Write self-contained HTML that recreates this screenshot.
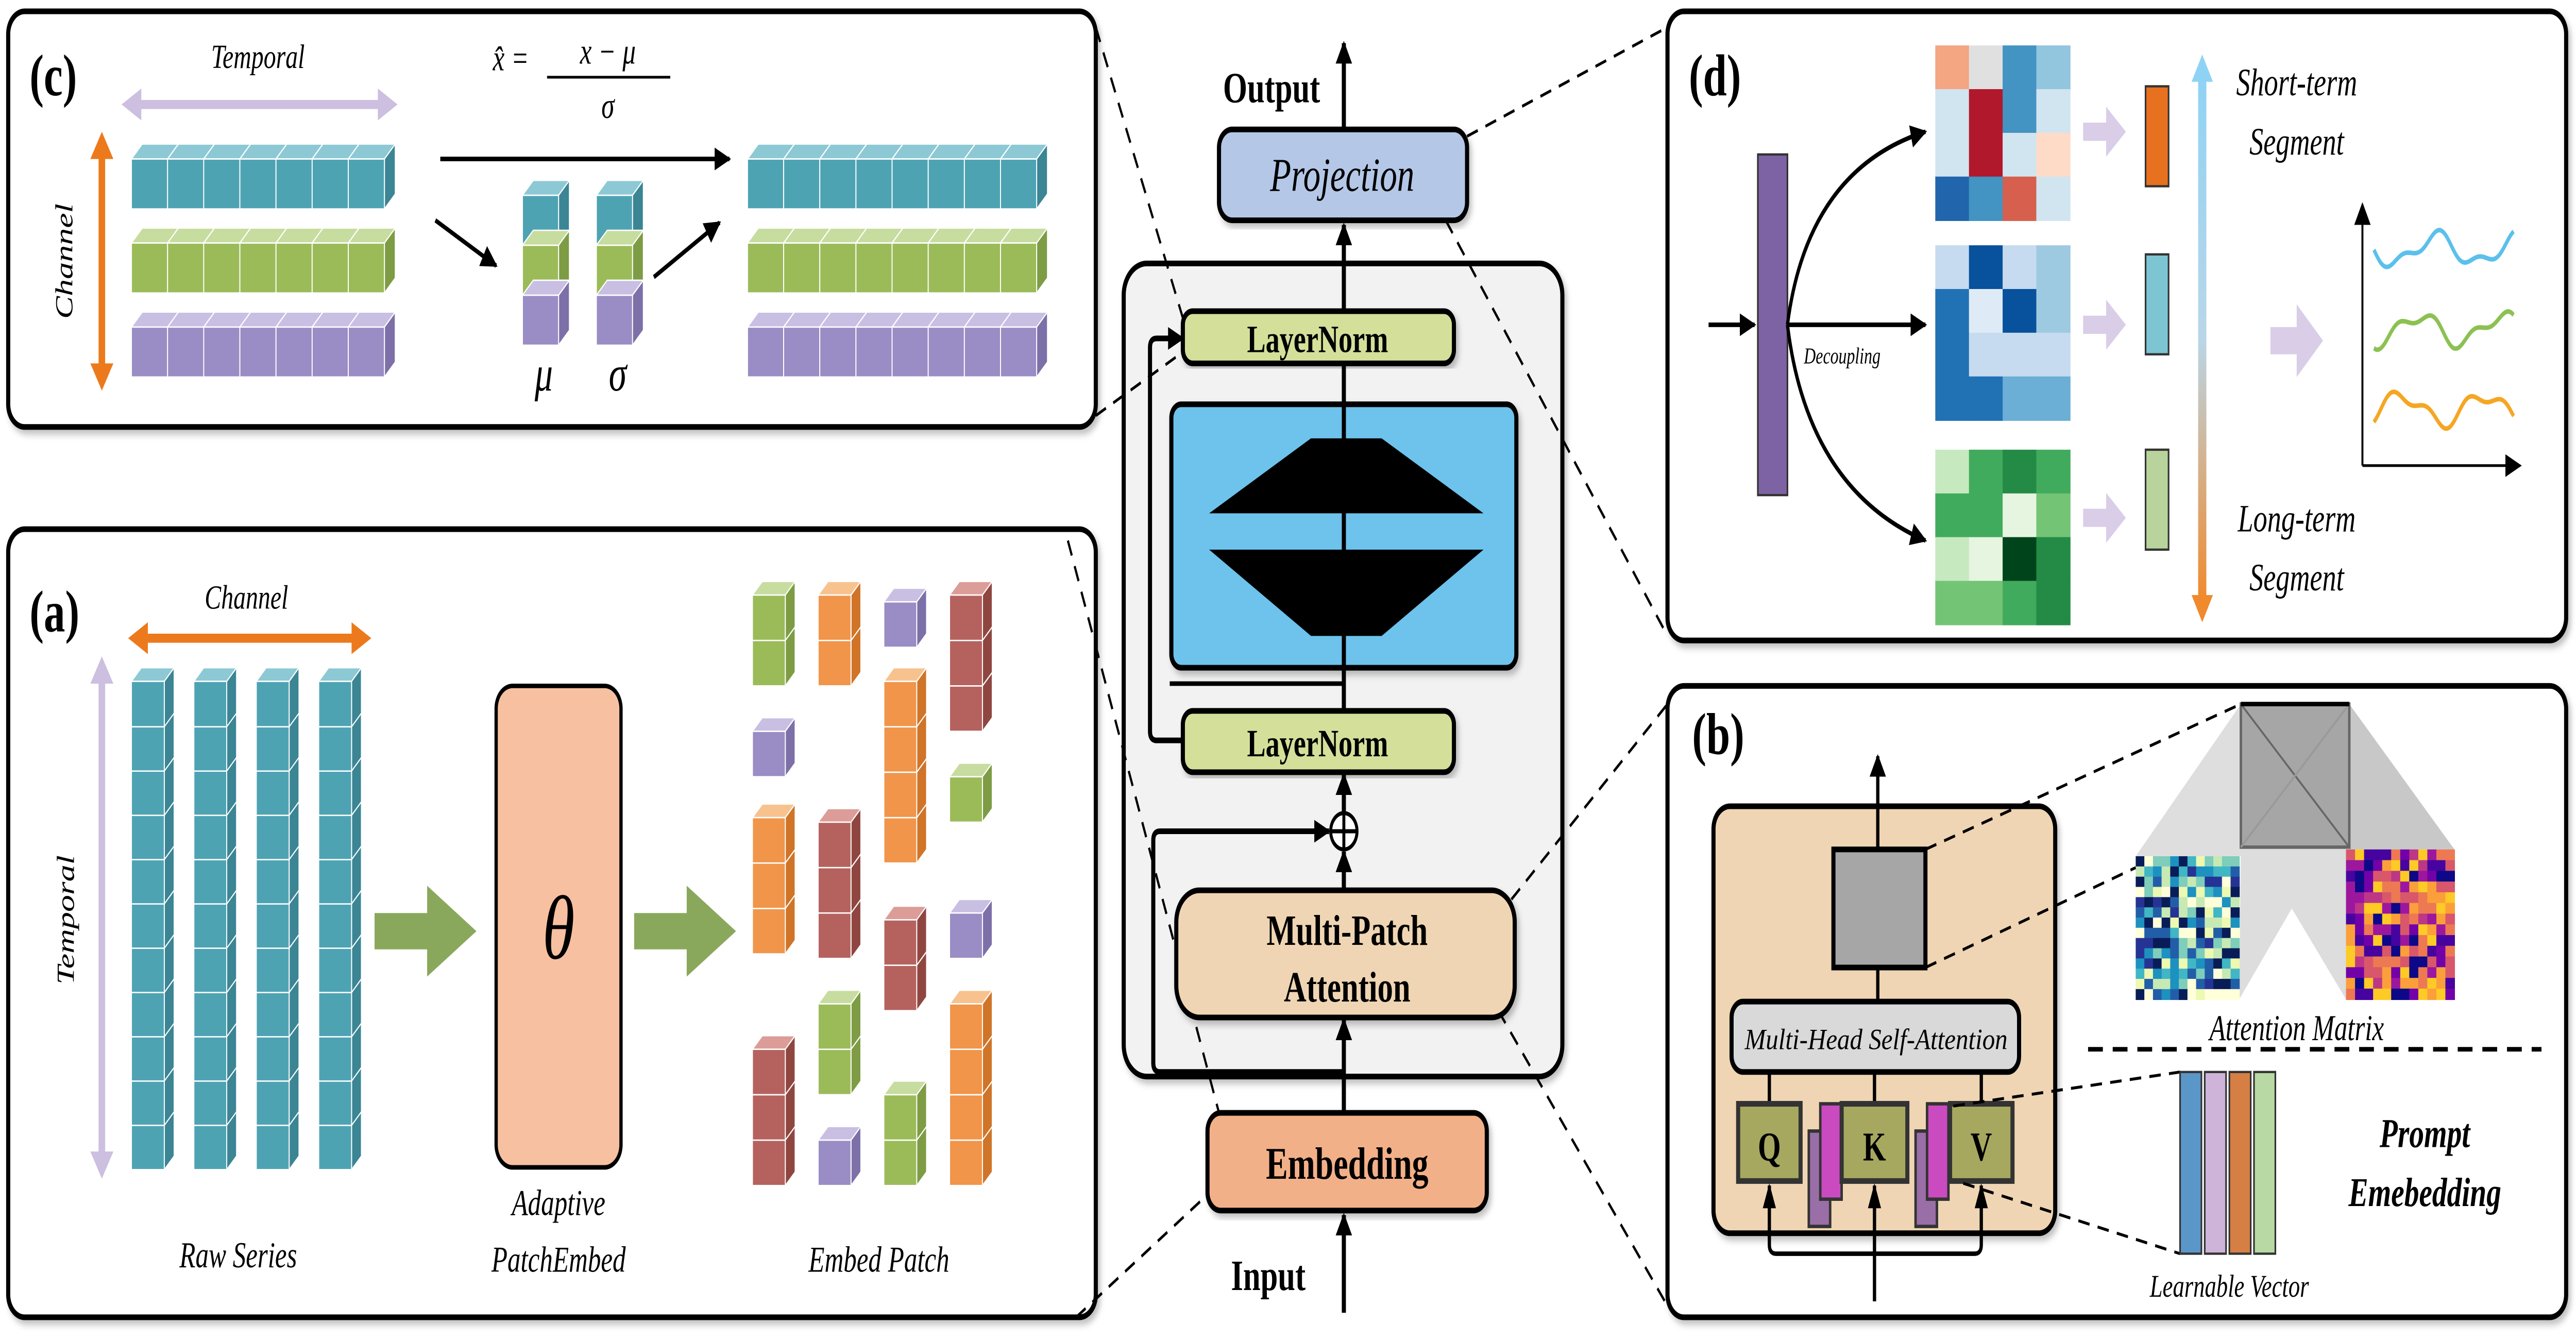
<!DOCTYPE html>
<html><head><meta charset="utf-8">
<style>
html,body{margin:0;padding:0;background:#fff;width:100%;height:100%;overflow:hidden;}
svg{display:block;width:100vw;height:100vh;position:fixed;left:0;top:0;}
text{font-family:"Liberation Serif",serif;}
</style></head>
<body>
<svg id="s" xmlns="http://www.w3.org/2000/svg" viewBox="0 0 1568 590" preserveAspectRatio="none">
<defs>
<marker id="ah" markerWidth="10" markerHeight="10" refX="9" refY="5" orient="auto" markerUnits="userSpaceOnUse"><path d="M0,0 L10,5 L0,10 z" fill="#000"/></marker>
<linearGradient id="gv" x1="0" y1="0" x2="0" y2="1"><stop offset="0" stop-color="#8fd3f4"/><stop offset="0.5" stop-color="#b9d6e8"/><stop offset="1" stop-color="#f08a2c"/></linearGradient>
<filter id="sh" x="-5%" y="-5%" width="110%" height="115%"><feDropShadow dx="1.5" dy="2" stdDeviation="1.5" flood-color="#000" flood-opacity="0.25"/></filter>
</defs>

<rect x="5" y="5" width="662" height="183" rx="10" fill="#fff" stroke="#000" stroke-width="2.5" filter="url(#sh)"/>
<rect x="5" y="233" width="662" height="347" rx="10" fill="#fff" stroke="#000" stroke-width="2.5" filter="url(#sh)"/>
<rect x="1015" y="5" width="547" height="277" rx="10" fill="#fff" stroke="#000" stroke-width="2.5" filter="url(#sh)"/>
<rect x="1015" y="302" width="547" height="278" rx="10" fill="#fff" stroke="#000" stroke-width="2.5" filter="url(#sh)"/>

<rect x="684" y="116" width="267" height="358" rx="14" fill="#f2f2f2" stroke="#000" stroke-width="2.5" filter="url(#sh)"/>
<g stroke="#000" stroke-width="1.3" stroke-dasharray="7,5" fill="none">
<line x1="667" y1="12" x2="720" y2="140"/>
<line x1="667" y1="183" x2="720" y2="155"/>
<line x1="650" y1="238" x2="742" y2="490"/>
<line x1="655" y1="580" x2="738" y2="524"/>
<line x1="893" y1="60" x2="1015" y2="12"/>
<line x1="880" y1="97" x2="1015" y2="280"/>
<line x1="920" y1="396" x2="1015" y2="310"/>
<line x1="912" y1="445" x2="1015" y2="575"/>
</g>
<rect x="742" y="57" width="151" height="40" rx="8" fill="#b4c7e7" stroke="#000" stroke-width="2.5" filter="url(#sh)"/>
<text x="817" y="84" font-size="21" font-style="italic" text-anchor="middle">Projection</text>
<text x="774" y="45" font-size="19" font-weight="bold" text-anchor="middle">Output</text>
<line x1="818" y1="57" x2="818" y2="19" stroke="#000" stroke-width="2.5" marker-end="url(#ah)"/>
<line x1="818" y1="137" x2="818" y2="99" stroke="#000" stroke-width="2.5" marker-end="url(#ah)"/>
<rect x="713" y="178" width="210" height="116" rx="6" fill="#6dc3ec" stroke="#000" stroke-width="2.5" filter="url(#sh)"/>
<polygon points="798,193 841,193 903,226 736,226" fill="#000"/>
<polygon points="736,242 903,242 841,280 798,280" fill="#000"/>
<line x1="818" y1="312" x2="818" y2="160" stroke="#000" stroke-width="2.5"/>
<line x1="712" y1="301" x2="818" y2="301" stroke="#000" stroke-width="2"/>
<rect x="720" y="137" width="165" height="23" rx="6" fill="#d4df9a" stroke="#000" stroke-width="2.5" filter="url(#sh)"/>
<text x="802" y="155" font-size="17" font-weight="bold" text-anchor="middle">LayerNorm</text>
<rect x="720" y="313" width="165" height="27" rx="6" fill="#d4df9a" stroke="#000" stroke-width="2.5" filter="url(#sh)"/>
<text x="802" y="333" font-size="17" font-weight="bold" text-anchor="middle">LayerNorm</text>
<path d="M720,326 L704,326 Q700,326 700,322 L700,153 Q700,149 704,149 L720,149" fill="none" stroke="#000" stroke-width="2.5" marker-end="url(#ah)"/>
<circle cx="818" cy="366" r="8" fill="#fff" stroke="#000" stroke-width="1.8"/>
<line x1="810" y1="366" x2="826" y2="366" stroke="#000" stroke-width="1.8"/>
<line x1="818" y1="358" x2="818" y2="374" stroke="#000" stroke-width="1.8"/>
<line x1="818" y1="358" x2="818" y2="341" stroke="#000" stroke-width="2.5" marker-end="url(#ah)"/>
<line x1="818" y1="392" x2="818" y2="375" stroke="#000" stroke-width="2.5" marker-end="url(#ah)"/>
<rect x="716" y="392" width="206" height="56" rx="14" fill="#efd5b3" stroke="#000" stroke-width="2.5" filter="url(#sh)"/>
<text x="820" y="416" font-size="19" font-weight="bold" text-anchor="middle">Multi-Patch</text>
<text x="820" y="441" font-size="19" font-weight="bold" text-anchor="middle">Attention</text>
<path d="M818,472 L706,472 Q702,472 702,468 L702,370 Q702,366 706,366 L809,366" fill="none" stroke="#000" stroke-width="2.5" marker-end="url(#ah)"/>
<line x1="818" y1="490" x2="818" y2="449" stroke="#000" stroke-width="2.5" marker-end="url(#ah)"/>
<rect x="735" y="490" width="170" height="43" rx="8" fill="#f2b088" stroke="#000" stroke-width="2.5" filter="url(#sh)"/>
<text x="820" y="519" font-size="20" font-weight="bold" text-anchor="middle">Embedding</text>
<text x="772" y="568" font-size="19" font-weight="bold" text-anchor="middle">Input</text>
<line x1="818" y1="578" x2="818" y2="535" stroke="#000" stroke-width="2.5" marker-end="url(#ah)"/>

<text x="18" y="42" font-size="26" font-weight="bold">(c)</text>
<text x="157" y="30" font-size="15" font-style="italic" text-anchor="middle">Temporal</text>
<line x1="80" y1="46" x2="236" y2="46" stroke="#cdbfe0" stroke-width="4"/>
<polygon points="74,46 86,39 86,53" fill="#cdbfe0"/><polygon points="242,46 230,39 230,53" fill="#cdbfe0"/>
<line x1="62" y1="64" x2="62" y2="166" stroke="#ec7a1c" stroke-width="4"/>
<polygon points="62,58 55,70 69,70" fill="#ec7a1c"/><polygon points="62,172 55,160 69,160" fill="#ec7a1c"/>
<text transform="translate(44,115) rotate(-90)" font-size="15" font-style="italic" text-anchor="middle">Channel</text>
<text x="300" y="31" font-size="16" font-style="italic">x̂ =</text>
<text x="370" y="28" font-size="16" font-style="italic" text-anchor="middle">x − μ</text>
<line x1="333" y1="34" x2="408" y2="34" stroke="#000" stroke-width="1.2"/>
<text x="370" y="52" font-size="16" font-style="italic" text-anchor="middle">σ</text>
<line x1="268" y1="70" x2="444" y2="70" stroke="#000" stroke-width="2" marker-end="url(#ah)"/>
<line x1="265" y1="97" x2="302" y2="117" stroke="#000" stroke-width="2" marker-end="url(#ah)"/>
<line x1="398" y1="122" x2="438" y2="98" stroke="#000" stroke-width="2" marker-end="url(#ah)"/>
<text x="331" y="172" font-size="22" font-style="italic" text-anchor="middle">μ</text>
<text x="376" y="172" font-size="22" font-style="italic" text-anchor="middle">σ</text>

<text x="18" y="278" font-size="26" font-weight="bold">(a)</text>
<text x="150" y="268" font-size="15" font-style="italic" text-anchor="middle">Channel</text>
<line x1="84" y1="281" x2="220" y2="281" stroke="#ec7a1c" stroke-width="4"/>
<polygon points="78,281 90,274 90,288" fill="#ec7a1c"/><polygon points="226,281 214,274 214,288" fill="#ec7a1c"/>
<line x1="62" y1="296" x2="62" y2="512" stroke="#cdbfe0" stroke-width="4"/>
<polygon points="62,289 55,301 69,301" fill="#cdbfe0"/><polygon points="62,519 55,507 69,507" fill="#cdbfe0"/>
<text transform="translate(45,405) rotate(-90)" font-size="15" font-style="italic" text-anchor="middle">Temporal</text>
<text x="145" y="558" font-size="16" font-style="italic" text-anchor="middle">Raw Series</text>
<polygon points="228,402 260,402 260,390 290,410 260,430 260,418 228,418" fill="#8aa85c"/>
<rect x="302" y="302" width="76" height="212" rx="10" fill="#f7c0a0" stroke="#000" stroke-width="2"/>
<text x="340" y="422" font-size="40" font-style="italic" text-anchor="middle">θ</text>
<polygon points="386,402 418,402 418,390 448,410 418,430 418,418 386,418" fill="#8aa85c"/>
<text x="340" y="535" font-size="16" font-style="italic" text-anchor="middle">Adaptive</text>
<text x="340" y="560" font-size="16" font-style="italic" text-anchor="middle">PatchEmbed</text>
<text x="535" y="560" font-size="16" font-style="italic" text-anchor="middle">Embed Patch</text>

<text x="1028" y="42" font-size="26" font-weight="bold">(d)</text>
<line x1="1040" y1="143" x2="1068" y2="143" stroke="#000" stroke-width="2" marker-end="url(#ah)"/>
<rect x="1070" y="68" width="18" height="150" fill="#7e63a4" stroke="#333" stroke-width="1"/>
<path d="M1088,143 Q1100,75 1172,58" fill="none" stroke="#000" stroke-width="2" marker-end="url(#ah)"/>
<line x1="1088" y1="143" x2="1172" y2="143" stroke="#000" stroke-width="2" marker-end="url(#ah)"/>
<path d="M1088,143 Q1100,215 1172,238" fill="none" stroke="#000" stroke-width="2" marker-end="url(#ah)"/>
<text x="1098" y="160" font-size="10" font-style="italic">Decoupling</text>
<g fill="#d9cde8">
<polygon points="1268,54 1282,54 1282,47 1294,58 1282,69 1282,62 1268,62"/>
<polygon points="1268,139 1282,139 1282,132 1294,143 1282,154 1282,147 1268,147"/>
<polygon points="1268,224 1282,224 1282,217 1294,228 1282,239 1282,232 1268,232"/>
<polygon points="1382,144 1398,144 1398,134 1414,150 1398,166 1398,156 1382,156"/>
</g>
<rect x="1306" y="38" width="14" height="44" fill="#e8711f" stroke="#333" stroke-width="1"/>
<rect x="1306" y="112" width="14" height="44" fill="#7ec5d3" stroke="#333" stroke-width="1"/>
<rect x="1306" y="198" width="14" height="44" fill="#b8d49c" stroke="#333" stroke-width="1"/>
<rect x="1338" y="34" width="5" height="230" fill="url(#gv)"/>
<polygon points="1340.5,24 1334,36 1347,36" fill="#8fd3f4"/>
<polygon points="1340.5,274 1334,262 1347,262" fill="#f08a2c"/>
<text x="1398" y="42" font-size="17" font-style="italic" text-anchor="middle">Short-term</text>
<text x="1398" y="68" font-size="17" font-style="italic" text-anchor="middle">Segment</text>
<text x="1398" y="234" font-size="17" font-style="italic" text-anchor="middle">Long-term</text>
<text x="1398" y="260" font-size="17" font-style="italic" text-anchor="middle">Segment</text>
<line x1="1438" y1="205" x2="1438" y2="90" stroke="#000" stroke-width="1.2" marker-end="url(#ah)"/>
<line x1="1438" y1="205" x2="1534" y2="205" stroke="#000" stroke-width="1.2" marker-end="url(#ah)"/>
<g id="waves"></g>

<text x="1030" y="332" font-size="26" font-weight="bold">(b)</text>
<rect x="1043" y="355" width="208" height="188" rx="10" fill="#efd5b3" stroke="#000" stroke-width="2.5" filter="url(#sh)"/>
<line x1="1143" y1="374" x2="1143" y2="333" stroke="#000" stroke-width="2" marker-end="url(#ah)"/>
<line x1="1143" y1="426" x2="1143" y2="441" stroke="#000" stroke-width="2"/>
<rect x="1116" y="374" width="56" height="52" fill="#a6a6a6" stroke="#000" stroke-width="2.5"/>
<rect x="1054" y="441" width="175" height="31" rx="7" fill="#d9d9d9" stroke="#000" stroke-width="2.5"/>
<text x="1142" y="462" font-size="13" font-style="italic" text-anchor="middle" textLength="160" lengthAdjust="spacingAndGlyphs">Multi-Head Self-Attention</text>
<g stroke="#000" stroke-width="2"><line x1="1077" y1="472" x2="1077" y2="486"/><line x1="1141" y1="472" x2="1141" y2="486"/><line x1="1206" y1="472" x2="1206" y2="486"/></g>
<rect x="1101" y="498" width="13" height="42" fill="#9a6ea7" stroke="#333" stroke-width="1.5"/>
<rect x="1108" y="486" width="13" height="42" fill="#c94bbf" stroke="#333" stroke-width="1.5"/>
<rect x="1166" y="498" width="13" height="42" fill="#9a6ea7" stroke="#333" stroke-width="1.5"/>
<rect x="1173" y="486" width="13" height="42" fill="#c94bbf" stroke="#333" stroke-width="1.5"/>
<rect x="1058" y="486" width="38" height="34" fill="#a7a860" stroke="#333" stroke-width="2.5"/>
<rect x="1121" y="486" width="40" height="34" fill="#a7a860" stroke="#333" stroke-width="2.5"/>
<rect x="1187" y="486" width="38" height="34" fill="#a7a860" stroke="#333" stroke-width="2.5"/>
<text x="1077" y="511" font-size="18" font-weight="bold" text-anchor="middle">Q</text>
<text x="1141" y="511" font-size="18" font-weight="bold" text-anchor="middle">K</text>
<text x="1206" y="511" font-size="18" font-weight="bold" text-anchor="middle">V</text>
<path d="M1141,573 L1141,552 M1077,522 L1077,548 Q1077,552 1081,552 L1202,552 Q1206,552 1206,548 L1206,522 M1141,552 L1141,522" fill="none" stroke="#000" stroke-width="2"/>
<polygon points="1077,521 1073,532 1081,532" fill="#000"/><polygon points="1141,521 1137,532 1145,532" fill="#000"/><polygon points="1206,521 1202,532 1210,532" fill="#000"/>
<polygon points="1364,310 1430,310 1494,374 1430,374" fill="#c8c8c8"/>
<polygon points="1364,310 1300,377 1364,377" fill="#dedede"/>
<polygon points="1364,373 1430,373 1475,440 1428,440 1395,400 1363,440" fill="#d4d4d4" opacity="0.8"/>
<rect x="1364" y="310" width="66" height="63" fill="#a6a6a6" stroke="#666" stroke-width="1.5"/>
<line x1="1364" y1="310" x2="1430" y2="373" stroke="#666" stroke-width="1"/>
<line x1="1430" y1="310" x2="1364" y2="373" stroke="#999" stroke-width="1"/>
<line x1="1364" y1="310" x2="1430" y2="310" stroke="#000" stroke-width="2"/>
<g id="hm"></g>
<text x="1398" y="458" font-size="16" font-style="italic" text-anchor="middle">Attention Matrix</text>
<line x1="1271" y1="462" x2="1547" y2="462" stroke="#000" stroke-width="2" stroke-dasharray="9,6"/>
<g stroke="#000" stroke-width="1.3" stroke-dasharray="7,5" fill="none">
<line x1="1172" y1="374" x2="1364" y2="310"/>
<line x1="1172" y1="426" x2="1300" y2="382"/>
<line x1="1189" y1="487" x2="1327" y2="472"/>
<line x1="1195" y1="521" x2="1327" y2="552"/>
</g>
<rect x="1327" y="472" width="13" height="80" fill="#5b96c8" stroke="#333" stroke-width="1"/>
<rect x="1342" y="472" width="13" height="80" fill="#cdb4d8" stroke="#333" stroke-width="1"/>
<rect x="1357" y="472" width="13" height="80" fill="#d57f44" stroke="#333" stroke-width="1"/>
<rect x="1372" y="472" width="13" height="80" fill="#b8d9a3" stroke="#333" stroke-width="1"/>
<text x="1476" y="505" font-size="18" font-weight="bold" font-style="italic" text-anchor="middle">Prompt</text>
<text x="1476" y="531" font-size="18" font-weight="bold" font-style="italic" text-anchor="middle">Emebedding</text>
<text x="1357" y="571" font-size="14" font-style="italic" text-anchor="middle">Learnable Vector</text>

<g id="cubes"></g>
</svg>
<script>
(function(){
var seed=7;function rnd(){seed=(seed*16807)%2147483647;return (seed-1)/2147483646;}
var C={t:["#4ea3b3","#8cc9d4","#3b8594"],g:["#9bbb59","#c7dc9f","#7e9c44"],p:["#9a8cc4","#c8bfe3","#7d70a8"],o:["#f0954a","#f8c28f","#d07428"],r:["#b5625e","#dc9c97","#8f4640"]};
var out="";
function cube(x,y,s,k){var c=C[k],d=s*0.3;
out+='<polygon points="'+x+','+y+' '+(x+d)+','+(y-d)+' '+(x+s+d)+','+(y-d)+' '+(x+s)+','+y+'" fill="'+c[1]+'" stroke="#fff" stroke-width="0.6"/>';
out+='<polygon points="'+(x+s)+','+y+' '+(x+s+d)+','+(y-d)+' '+(x+s+d)+','+(y+s-d)+' '+(x+s)+','+(y+s)+'" fill="'+c[2]+'" stroke="#fff" stroke-width="0.6"/>';
out+='<rect x="'+x+'" y="'+y+'" width="'+s+'" height="'+s+'" fill="'+c[0]+'" stroke="#fff" stroke-width="0.6"/>';}
var rows=["t","g","p"],i,j;
for(j=0;j<3;j++){for(i=0;i<7;i++)cube(80+i*22,70+j*37,22,rows[j]);for(i=0;i<8;i++)cube(455+i*22,70+j*37,22,rows[j]);}
[318,363].forEach(function(x){cube(x,86,22,"t");cube(x,108,22,"g");cube(x,130,22,"p");});
for(i=0;i<4;i++)for(j=10;j>=0;j--)cube(80+i*38,300+j*19.5,20,"t");
var cols=[[458,[["g",262],["g",282],["p",322],["o",360],["o",380],["o",400],["r",462],["r",482],["r",502]]],
[498,[["o",262],["o",282],["r",362],["r",382],["r",402],["g",442],["g",462],["p",502]]],
[538,[["p",265],["o",300],["o",320],["o",340],["o",360],["r",405],["r",425],["g",482],["g",502]]],
[578,[["r",262],["r",282],["r",302],["g",342],["p",402],["o",442],["o",462],["o",482],["o",502]]]];
cols.forEach(function(c){for(var k=c[1].length-1;k>=0;k--)cube(c[0],c[1][k][1],20,c[1][k][0]);});
document.getElementById("cubes").innerHTML=out;
var h="";
function hm(x,y,w,hh,nc,nr,pal){var cw=w/nc,ch=hh/nr;for(var r=0;r<nr;r++)for(var c=0;c<nc;c++){h+='<rect x="'+(x+c*cw)+'" y="'+(y+r*ch)+'" width="'+(cw+0.3)+'" height="'+(ch+0.3)+'" fill="'+pal[Math.floor(rnd()*pal.length)]+'"/>';}}
hm(1178,20,82,77,4,4,["#f4a582","#92c5de","#4393c3","#d6604d","#b2182b","#fddbc7","#d1e5f0","#2166ac","#e0e0e0"]);
hm(1178,108,82,77,4,4,["#08519c","#3182bd","#6baed6","#9ecae1","#c6dbef","#deebf7","#2171b5"]);
hm(1178,198,82,77,4,4,["#00441b","#238b45","#41ab5d","#74c476","#a1d99b","#c7e9c0","#e5f5e0"]);
hm(1300,377,63,63,12,14,["#ffffd9","#edf8b1","#c7e9b4","#7fcdbb","#41b6c4","#1d91c0","#225ea8","#253494","#081d58"]);
hm(1428,374,66,66,12,14,["#0d0887","#46039f","#7201a8","#9c179e","#bd3786","#d8576b","#ed7953","#fb9f3a","#fdca26"]);
document.getElementById("hm").innerHTML=h;
var w="";
[[110,"#5bc0eb"],[145,"#8cc152"],[180,"#f5a623"]].forEach(function(a,idx){var d="";for(var x=0;x<=85;x+=1){var y=a[0]+6*Math.sin(x/8+idx*1.3)+3*Math.sin(x/3.7+idx);d+=(x?"L":"M")+(1445+x)+","+y.toFixed(2);}w+='<path d="'+d+'" fill="none" stroke="'+a[1]+'" stroke-width="2"/>';});
document.getElementById("waves").innerHTML=w;
})();
</script>
</body></html>
